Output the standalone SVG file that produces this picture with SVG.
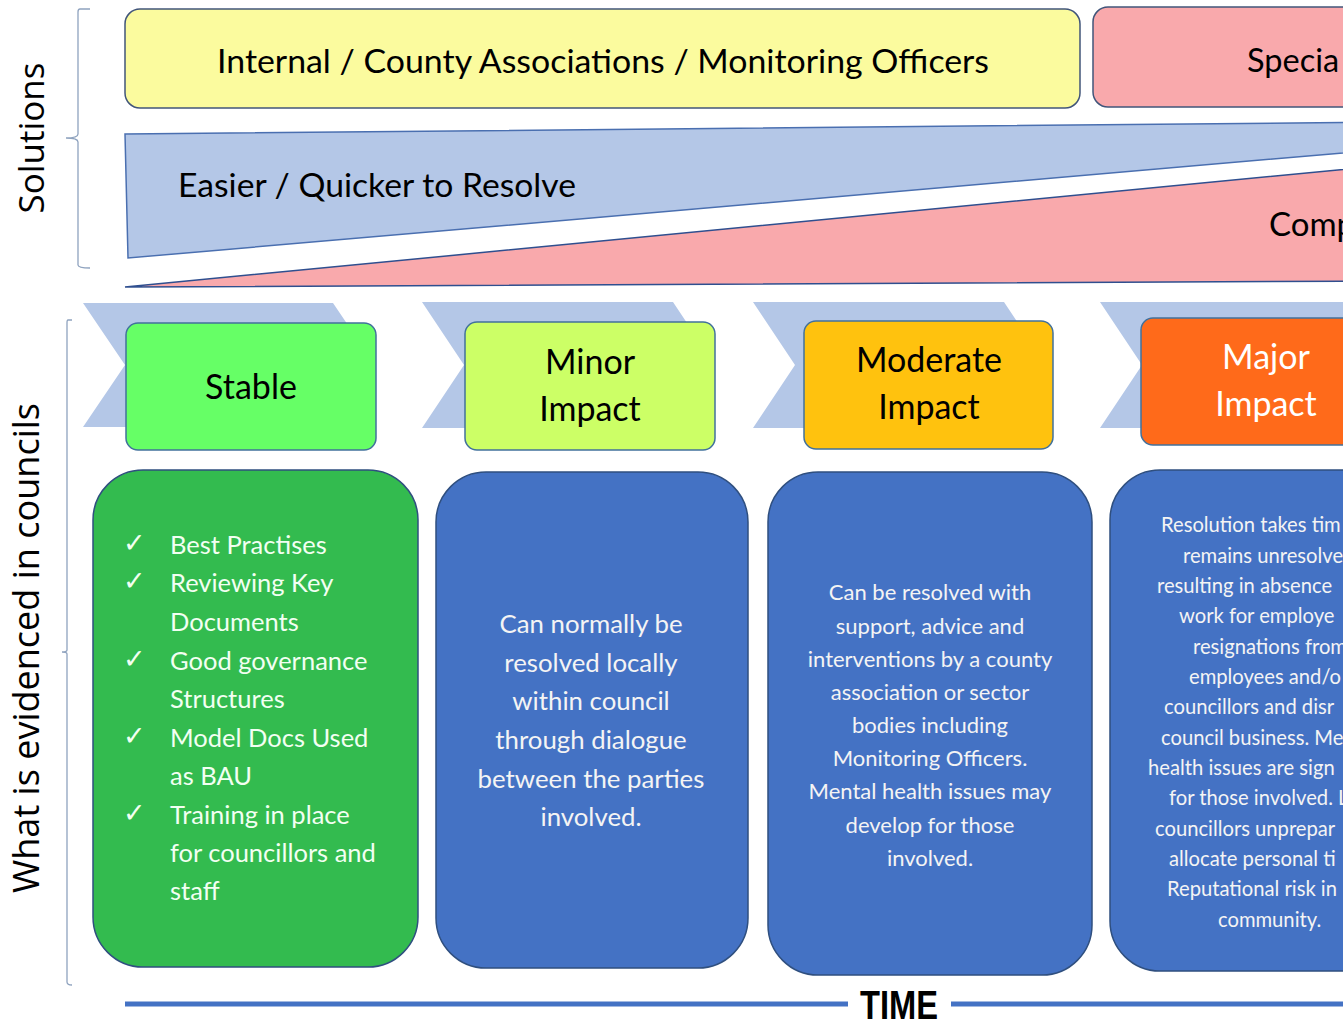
<svg xmlns="http://www.w3.org/2000/svg" width="1343" height="1023" viewBox="0 0 1343 1023">
<style>
.t{font-family:Lato,"Liberation Sans",sans-serif;}
.side{font-family:"Open Sans","Liberation Sans",sans-serif;font-size:35px;fill:#000;}
.top{fill:#000;font-size:32.5px;}
.hdr{font-size:34px;text-anchor:middle;fill:#000;}
.hdrw{font-size:34px;text-anchor:middle;fill:#fff;}
.list{font-size:25.5px;fill:#F2FFF2;}
.chk{font-family:"DejaVu Sans",sans-serif;font-size:27px;fill:#F2FFF2;}
.p1{font-size:25.8px;fill:#F4F4F4;text-anchor:middle;}
.p2{font-size:22px;fill:#F4F4F4;text-anchor:middle;}
.p3{font-size:20.2px;fill:#F4F4F4;}
.brk{fill:none;stroke:#8FA3BF;stroke-width:1.3;}
.chev{fill:#B4C7E7;}
.hbox{stroke:#41719C;stroke-width:1.5;}
.bbox{stroke:#2F4F7F;stroke-width:1.5;}
</style>

<!-- side brackets -->
<g id="solutions-label">
<path class="brk" d="M90,9 H80 Q78,9 78,12 V134 Q78,138 66,138 Q78,138 78,142 V265 Q78,268 90,268"/>
<text class="side" transform="translate(44,138) rotate(-90)" text-anchor="middle" textLength="151" lengthAdjust="spacingAndGlyphs">Solutions</text>
</g>
<g id="evidence-label">
<path class="brk" d="M72,320 H68 Q67,320 67,323 V650 Q67,652 62,652 Q67,652 67,654 V982 Q67,985 72,985"/>
<text class="side" style="font-size:36px" transform="translate(39,648) rotate(-90)" text-anchor="middle" textLength="490" lengthAdjust="spacingAndGlyphs">What is evidenced in councils</text>
</g>

<!-- top solution boxes -->
<g id="internal">
<rect x="125" y="9" width="955" height="99" rx="15" fill="#FBFB9E" stroke="#41557A" stroke-width="1.5"/>
<text class="t top" x="217" y="73" textLength="772" lengthAdjust="spacingAndGlyphs">Internal / County Associations / Monitoring Officers</text>
</g>
<g id="specialist">
<rect x="1093" y="7" width="400" height="100" rx="15" fill="#F9A9AC" stroke="#41557A" stroke-width="1.5"/>
<text class="t top" x="1247" y="72">Specia</text>
</g>

<!-- wedges -->
<g id="easier">
<polygon points="125,134 1400,122 1400,148 128,258" fill="#B4C7E7" stroke="#4A6FB0" stroke-width="1.5"/>
<text class="t top" style="font-size:33px" x="178" y="197" textLength="398" lengthAdjust="spacingAndGlyphs">Easier / Quicker to Resolve</text>
</g>
<g id="complex">
<polygon points="125,287 1400,164 1400,281" fill="#F9A9AC" stroke="#2F4F8F" stroke-width="1.5"/>
<text class="t top" style="font-size:33px" x="1269" y="236">Comp</text>
</g>

<!-- chevrons -->
<g id="chevrons">
<polygon class="chev" points="83,303 333,303 375,365 333,427 83,427 125,365"/>
<polygon class="chev" points="422,302 673,302 715,365 673,428 422,428 464,365"/>
<polygon class="chev" points="753,302 1004,302 1046,365 1004,428 753,428 795,365"/>
<polygon class="chev" points="1100,302 1351,302 1393,365 1351,428 1100,428 1142,365"/>
</g>

<!-- headers -->
<g id="stable">
<rect class="hbox" x="126" y="323" width="250" height="127" rx="12" fill="#66FF66"/>
<text class="t hdr" x="251" y="399">Stable</text>
</g>
<g id="minor">
<rect class="hbox" x="465" y="322" width="250" height="128" rx="12" fill="#CCFF66"/>
<text class="t hdr" x="590" y="374">Minor</text>
<text class="t hdr" x="590" y="421">Impact</text>
</g>
<g id="moderate">
<rect class="hbox" x="804" y="321" width="249" height="128" rx="12" fill="#FFC20E"/>
<text class="t hdr" x="929" y="372">Moderate</text>
<text class="t hdr" x="929" y="419">Impact</text>
</g>
<g id="major">
<rect class="hbox" x="1141" y="318" width="250" height="127" rx="12" fill="#FF6A1A"/>
<text class="t hdrw" x="1266" y="369">Major</text>
<text class="t hdrw" x="1266" y="416">Impact</text>
</g>

<!-- evidence boxes -->
<g id="stable-evidence">
<rect class="bbox" x="93" y="470" width="325" height="497" rx="50" fill="#33BB4F" stroke="#2E5F58"/>
<text class="chk" x="123" y="552">✓</text>
<text class="chk" x="123" y="590">✓</text>
<text class="chk" x="123" y="668">✓</text>
<text class="chk" x="123" y="745">✓</text>
<text class="chk" x="123" y="822">✓</text>
<text class="t list" x="170" y="554">Best Practises</text>
<text class="t list" x="170" y="592">Reviewing Key</text>
<text class="t list" x="170" y="631">Documents</text>
<text class="t list" x="170" y="670">Good governance</text>
<text class="t list" x="170" y="708">Structures</text>
<text class="t list" x="170" y="747">Model Docs Used</text>
<text class="t list" x="170" y="785">as BAU</text>
<text class="t list" x="170" y="824">Training in place</text>
<text class="t list" x="170" y="862">for councillors and</text>
<text class="t list" x="170" y="900">staff</text>
</g>
<g id="minor-evidence">
<rect class="bbox" x="436" y="472" width="312" height="496" rx="50" fill="#4472C4"/>
<text class="t p1" x="591" y="633">Can normally be</text>
<text class="t p1" x="591" y="672">resolved locally</text>
<text class="t p1" x="591" y="710">within council</text>
<text class="t p1" x="591" y="749">through dialogue</text>
<text class="t p1" x="591" y="788">between the parties</text>
<text class="t p1" x="591" y="826">involved.</text>
</g>
<g id="moderate-evidence">
<rect class="bbox" x="768" y="472" width="324" height="503" rx="50" fill="#4472C4"/>
<text class="t p2" x="930" y="600">Can be resolved with</text>
<text class="t p2" x="930" y="634">support, advice and</text>
<text class="t p2" x="930" y="667">interventions by a county</text>
<text class="t p2" x="930" y="700">association or sector</text>
<text class="t p2" x="930" y="733">bodies including</text>
<text class="t p2" x="930" y="766">Monitoring Officers.</text>
<text class="t p2" x="930" y="799">Mental health issues may</text>
<text class="t p2" x="930" y="833">develop for those</text>
<text class="t p2" x="930" y="866">involved.</text>
</g>
<g id="major-evidence">
<rect class="bbox" x="1110" y="470" width="325" height="501" rx="50" fill="#4472C4"/>
<text class="t p3" x="1161" y="532">Resolution takes tim</text>
<text class="t p3" x="1183" y="563">remains unresolve</text>
<text class="t p3" x="1157" y="593">resulting in absence</text>
<text class="t p3" x="1179" y="623">work for employe</text>
<text class="t p3" x="1193" y="654">resignations from</text>
<text class="t p3" x="1189" y="684">employees and/o</text>
<text class="t p3" x="1164" y="714">councillors and disr</text>
<text class="t p3" x="1161" y="745">council business. Me</text>
<text class="t p3" x="1148" y="775">health issues are sign</text>
<text class="t p3" x="1169" y="805">for those involved. Lo</text>
<text class="t p3" x="1155" y="836">councillors unprepar</text>
<text class="t p3" x="1169" y="866">allocate personal ti</text>
<text class="t p3" x="1167" y="896">Reputational risk in</text>
<text class="t p3" x="1218" y="927">community.</text>
</g>

<!-- time axis -->
<g id="time-axis">
<line x1="125" y1="1004" x2="848" y2="1004" stroke="#4472C4" stroke-width="5"/>
<line x1="951" y1="1004" x2="1343" y2="1004" stroke="#4472C4" stroke-width="5"/>
<text x="899" y="1019" text-anchor="middle" font-family="'Liberation Sans',sans-serif" font-weight="bold" font-size="40" textLength="78" lengthAdjust="spacingAndGlyphs" fill="#000">TIME</text>
</g>
</svg>
